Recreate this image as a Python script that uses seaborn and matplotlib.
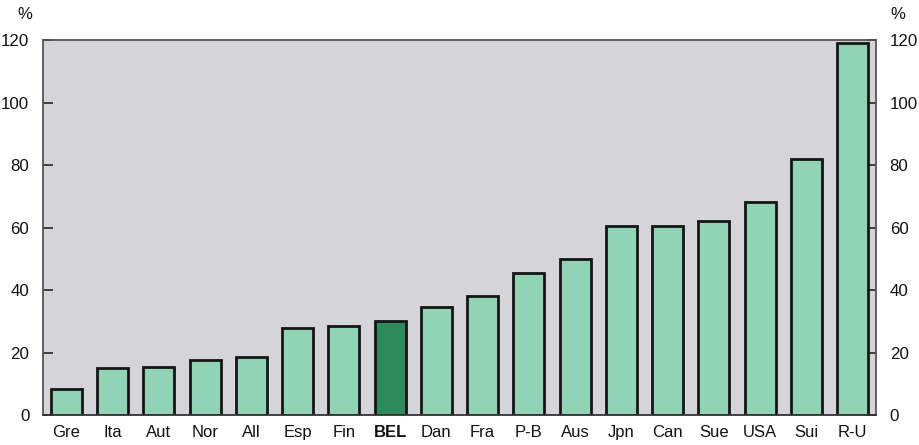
import matplotlib
matplotlib.use("Agg")
import matplotlib.pyplot as plt
import seaborn as sns
import pandas as pd

countries = ["Gre", "Ita", "Aut", "Nor", "All", "Esp", "Fin", "BEL", "Dan",
             "Fra", "P-B", "Aus", "Jpn", "Can", "Sue", "USA", "Sui", "R-U"]
values = [8.5, 15, 15.5, 17.5, 18.5, 28, 28.5, 30, 34.5,
          38, 45.5, 50, 60.5, 60.5, 62, 68.2, 82, 119]
highlight = "BEL"
y_ticks = [0, 20, 40, 60, 80, 100, 120]

sns.set_theme(style="white")
plt.rcParams["font.family"] = ["Liberation Sans", "DejaVu Sans"]
plt.rcParams["text.color"] = "#111111"

light_green = "#90d3b5"
dark_green = "#2e8a5a"
palette = {c: (dark_green if c == highlight else light_green) for c in countries}

df = pd.DataFrame({"country": countries, "value": values})

fig = plt.figure(figsize=(9.2, 4.45), dpi=100)
fig.patch.set_facecolor("white")
ax = fig.add_axes([0.047, 0.067, 0.905, 0.843])
ax.set_facecolor("#d5d5d9")

sns.barplot(data=df, x="country", y="value", hue="country", palette=palette,
            order=countries, width=0.67, edgecolor="#151515", linewidth=2.0,
            saturation=1, legend=False, ax=ax)

ax.set_ylim(0, 120)
ax.set_xlim(-0.5, len(countries) - 0.5)
ax.set_xlabel("")
ax.set_ylabel("")
ax.set_yticks(y_ticks)
ax.tick_params(axis="y", which="both", direction="in", length=7, width=1.3,
               color="#333333", labelsize=12.2, labelcolor="#111111", pad=10,
               left=True, right=True, labelleft=True, labelright=True)
ax.tick_params(axis="x", length=0, labelsize=12, labelcolor="#111111", pad=7)
for lbl in ax.get_xticklabels():
    if lbl.get_text() == highlight:
        lbl.set_fontweight("bold")
for spine in ax.spines.values():
    spine.set_color("#555555")
    spine.set_linewidth(1.3)
    spine.set_visible(True)
ax.spines["bottom"].set_color("#333333")

fig.text(0.027, 0.968, "%", fontsize=12, ha="center", va="center")
fig.text(0.976, 0.968, "%", fontsize=12, ha="center", va="center")

fig.savefig("out.png", dpi=100)
